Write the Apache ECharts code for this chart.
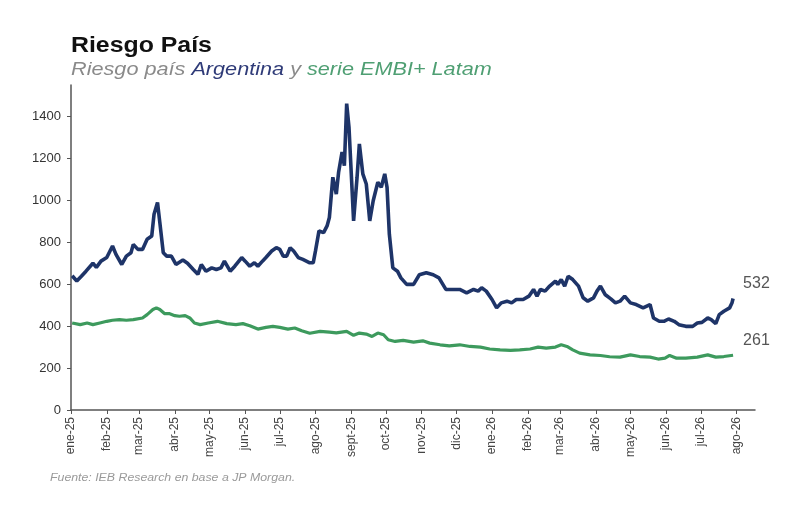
<!DOCTYPE html>
<html>
<head>
<meta charset="utf-8">
<script src="https://cdn.jsdelivr.net/npm/echarts@6.0.0/dist/echarts.min.js"></script>
<style>
	html, body{margin: 0;padding: 0;background: #fff;}
	#main{width: 800px;height: 516px;}
</style>
</head>
<body>
<div id="main"></div>
<script>
	// meses del eje x
	var monthLabels = ['ene-25','feb-25','mar-25','abr-25','may-25','jun-25','jul-25','ago-25','sept-25','oct-25','nov-25','dic-25',
		'ene-26','feb-26','mar-26','abr-26','may-26','jun-26','jul-26','ago-26'];
	var yTicks = [0, 200, 400, 600, 800, 1000, 1200, 1400];

	// riesgo pais Argentina (pb)
	var argDates = ['2025-01-02','2025-01-06','2025-01-10','2025-01-14','2025-01-20','2025-01-23','2025-01-27','2025-02-01',
		'2025-02-06','2025-02-09','2025-02-14','2025-02-18','2025-02-22','2025-02-24','2025-02-28','2025-03-04',
		'2025-03-08','2025-03-12','2025-03-14','2025-03-17','2025-03-19','2025-03-22','2025-03-25','2025-03-29',
		'2025-04-02','2025-04-08','2025-04-12','2025-04-17','2025-04-21','2025-04-24','2025-04-28','2025-05-03',
		'2025-05-07','2025-05-11','2025-05-14','2025-05-19','2025-05-23','2025-05-29','2025-06-01','2025-06-05',
		'2025-06-09','2025-06-12','2025-06-16','2025-06-19','2025-06-24','2025-06-28','2025-07-01','2025-07-04',
		'2025-07-07','2025-07-10','2025-07-13','2025-07-17','2025-07-21','2025-07-27','2025-07-30','2025-08-01',
		'2025-08-04','2025-08-08','2025-08-11','2025-08-13','2025-08-16','2025-08-19','2025-08-21','2025-08-24',
		'2025-08-26','2025-08-28','2025-08-30','2025-09-03','2025-09-06','2025-09-08','2025-09-11','2025-09-14',
		'2025-09-17','2025-09-20','2025-09-24','2025-09-27','2025-09-30','2025-10-02','2025-10-04','2025-10-07',
		'2025-10-11','2025-10-14','2025-10-19','2025-10-25','2025-10-30','2025-11-05','2025-11-11','2025-11-16',
		'2025-11-22','2025-11-28','2025-12-04','2025-12-10','2025-12-16','2025-12-20','2025-12-23','2025-12-27',
		'2026-01-01','2026-01-05','2026-01-09','2026-01-14','2026-01-18','2026-01-22','2026-01-28','2026-02-02',
		'2026-02-06','2026-02-09','2026-02-12','2026-02-16','2026-02-20','2026-02-25','2026-02-27','2026-03-02',
		'2026-03-05','2026-03-08','2026-03-12','2026-03-17','2026-03-21','2026-03-25','2026-03-30','2026-04-02',
		'2026-04-05','2026-04-09','2026-04-14','2026-04-18','2026-04-22','2026-04-26','2026-05-01','2026-05-06',
		'2026-05-12','2026-05-18','2026-05-21','2026-05-26','2026-05-30','2026-06-03','2026-06-08','2026-06-12',
		'2026-06-18','2026-06-24','2026-06-28','2026-07-02','2026-07-07','2026-07-10','2026-07-14','2026-07-17',
		'2026-07-21','2026-07-26','2026-07-28','2026-07-29'];
	var argValues = [640,615,638,662,700,680,710,727,
		782,742,694,734,750,790,766,766,
		814,830,934,990,895,750,734,734,
		694,715,700,670,647,694,662,678,
		670,678,710,662,686,727,710,686,
		702,686,710,727,758,774,766,734,
		734,774,758,727,718,702,702,760,
		854,846,878,918,1110,1030,1134,1230,
		1165,1461,1349,902,1110,1269,1126,1078,
		902,998,1086,1062,1126,1062,838,678,
		662,630,599,599,645,655,645,630,
		575,575,575,559,575,567,583,567,
		527,487,511,519,511,527,527,543,
		575,543,575,567,591,615,599,622,
		591,638,622,591,535,519,535,567,
		591,551,530,511,519,543,511,503,
		487,503,439,423,423,434,423,407,
		399,399,415,418,439,431,412,455,
		471,487,510,532];

	// serie EMBI+ Latam (pb)
	var embiDates = ['2025-01-02','2025-01-09','2025-01-15','2025-01-20','2025-01-26','2025-02-01','2025-02-06','2025-02-12',
		'2025-02-18','2025-02-24','2025-03-04','2025-03-08','2025-03-13','2025-03-16','2025-03-19','2025-03-23',
		'2025-03-27','2025-04-01','2025-04-05','2025-04-10','2025-04-14','2025-04-18','2025-04-23','2025-04-30',
		'2025-05-08','2025-05-16','2025-05-24','2025-05-30','2025-06-05','2025-06-12','2025-06-19','2025-06-25',
		'2025-07-01','2025-07-08','2025-07-14','2025-07-20','2025-07-27','2025-08-05','2025-08-13','2025-08-19',
		'2025-08-28','2025-09-03','2025-09-08','2025-09-14','2025-09-19','2025-09-24','2025-09-29','2025-10-03',
		'2025-10-09','2025-10-16','2025-10-25','2025-11-02','2025-11-08','2025-11-17','2025-11-25','2025-12-04',
		'2025-12-13','2025-12-22','2025-12-30','2026-01-08','2026-01-17','2026-01-25','2026-02-03','2026-02-10',
		'2026-02-17','2026-02-25','2026-03-02','2026-03-07','2026-03-12','2026-03-18','2026-03-27','2026-04-05',
		'2026-04-13','2026-04-22','2026-05-01','2026-05-09','2026-05-18','2026-05-25','2026-05-31','2026-06-04',
		'2026-06-10','2026-06-18','2026-06-28','2026-07-07','2026-07-14','2026-07-21','2026-07-29'];
	var embiValues = [415,407,415,407,415,423,428,431,
		428,431,439,455,479,487,479,460,
		460,450,447,450,439,415,407,415,
		423,412,407,412,402,386,394,399,
		394,386,391,378,366,375,371,368,
		375,356,367,362,351,367,359,335,
		327,332,324,330,319,311,306,311,
		303,300,291,287,284,287,291,300,
		295,300,311,303,287,271,263,260,
		254,252,263,255,252,243,247,260,
		247,247,252,263,252,255,261];

	function toTime(s){
		var p = s.split('-');
		return new Date(+p[0], +p[1] - 1, +p[2]).getTime();
	}
	// inicio de cada mes, en el mismo orden que monthLabels
	var monthStarts = monthLabels.map(function(m, i){
		return new Date(2025, i, 1).getTime();
	});
	var argData = argDates.map(function(d, i){ return [toTime(d), argValues[i]]; });
	var embiData = embiDates.map(function(d, i){ return [toTime(d), embiValues[i]]; });

	var myChart = echarts.init(document.getElementById('main'));
	var font = 'Liberation Sans, Arial, sans-serif';
	option = {
		backgroundColor: '#fff',
		animation: false,
		graphic: [{
			type: 'text',
			x: 71,
			y: 35,
			scaleX: 1.13,
			style: {
				text: 'Riesgo País',
				fontFamily: font,
				fontSize: 22,
				fontWeight: 'bold',
				fill: '#111',
				verticalAlign: 'top'
			}
		},{
			type: 'text',
			x: 71,
			y: 60,
			scaleX: 1.14,
			style: {
				text: '{g|Riesgo país }{b|Argentina}{g| y }{v|serie EMBI+ Latam}',
				verticalAlign: 'top',
				rich: {
					g: {fontFamily: font, fontSize: 19, fontStyle: 'italic', fill: '#8a8a8a'},
					b: {fontFamily: font, fontSize: 19, fontStyle: 'italic', fill: '#2f3b78'},
					v: {fontFamily: font, fontSize: 19, fontStyle: 'italic', fill: '#4f9f73'}
				}
			}
		},{
			type: 'text',
			x: 50,
			y: 472,
			scaleX: 1.12,
			style: {
				text: 'Fuente: IEB Research en base a JP Morgan.',
				fontFamily: font,
				fontSize: 11,
				fontStyle: 'italic',
				fill: '#9a9a9a',
				verticalAlign: 'top'
			}
		}],
		grid: {left: 71, right: 45, top: 85, bottom: 106, containLabel: false},
		xAxis: {
			type: 'value',
			min: toTime('2025-01-01'),
			max: toTime('2026-08-17'),
			axisLine: {show: true, lineStyle: {color: '#555', width: 1.5}},
			axisTick: {show: true, customValues: monthStarts, length: 4, lineStyle: {color: '#555'}},
			splitLine: {show: false},
			axisLabel: {
				customValues: monthStarts,
				rotate: 90,
				margin: 7,
				fontFamily: font,
				fontSize: 12,
				color: '#444',
				formatter: function(v){
					return monthLabels[monthStarts.indexOf(v)] || '';
				}
			}
		},
		yAxis: {
			type: 'value',
			min: 0,
			max: 1550,
			axisLine: {show: true, lineStyle: {color: '#555', width: 1.5}},
			axisTick: {show: true, customValues: yTicks, length: 4, lineStyle: {color: '#555'}},
			splitLine: {show: false},
			axisLabel: {
				customValues: yTicks,
				margin: 10,
				fontFamily: font,
				fontSize: 13,
				color: '#333',
				formatter: function(v){ return String(v); }
			}
		},
		series: [{
			name: 'Argentina',
			type: 'line',
			data: argData,
			showSymbol: false,
			lineStyle: {color: '#1e3468', width: 3.6},
			itemStyle: {color: '#1e3468'},
			endLabel: {
				show: true,
				offset: [2, -15],
				fontFamily: font,
				fontSize: 16,
				color: '#555',
				formatter: function(p){ return p.value[1]; }
			}
		},{
			name: 'EMBI+ Latam',
			type: 'line',
			data: embiData,
			showSymbol: false,
			lineStyle: {color: '#3d9a5d', width: 3.2},
			itemStyle: {color: '#3d9a5d'},
			endLabel: {
				show: true,
				offset: [2, -15],
				fontFamily: font,
				fontSize: 16,
				color: '#555',
				formatter: function(p){ return p.value[1]; }
			}
		}]
	};
	myChart.setOption(option);
</script>
</body>
</html>
